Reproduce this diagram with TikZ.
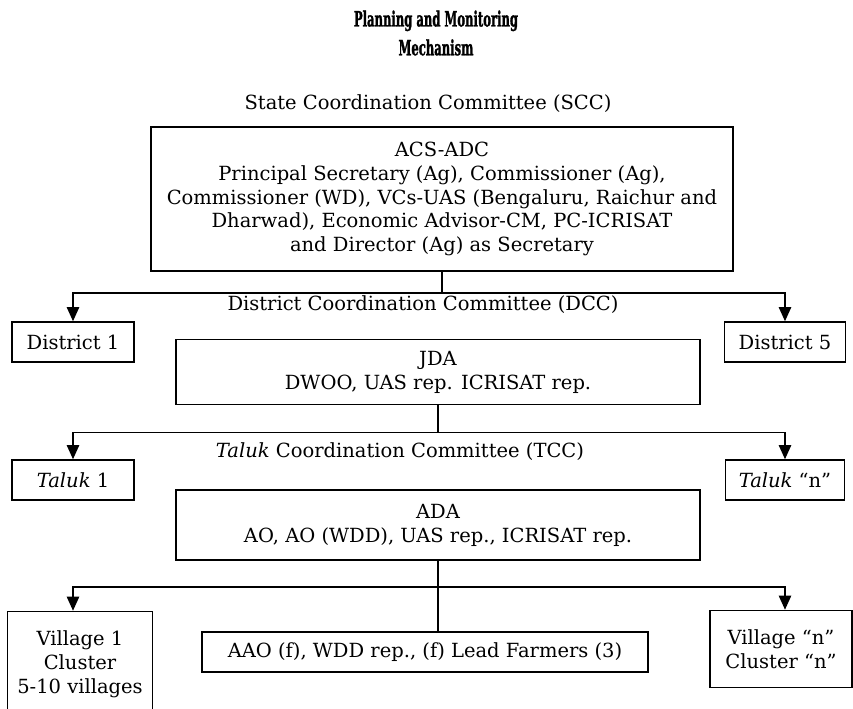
\documentclass[tikz,border=0pt]{standalone}
\usepackage{fontspec}
\setmainfont{DejaVu Serif}
\newfontfamily\titlefont[FakeStretch=0.55, BoldFeatures={FakeBold=1.2}]{DejaVu Serif}
\usetikzlibrary{arrows.meta,positioning,calc}

\begin{document}
\begin{tikzpicture}[x=0.02cm, y=-0.02cm,
    box/.style={rectangle, draw, line width=0.9pt, align=center, inner sep=2pt, font=\fontsize{11.1}{13.6}\selectfont},
    lbl/.style={inner sep=2pt, font=\fontsize{11.1}{13.6}\selectfont},
    arrow/.style={-{Triangle[width=7pt,length=8pt]}, line width=0.9pt},
    link/.style={line width=0.9pt}]
  \useasboundingbox (0,0) rectangle (853,708);
  \node[align=center, font=\titlefont\bfseries\fontsize{12}{16.4}\selectfont] (title) at (436,33) {Planning and Monitoring\\Mechanism};
  % state level
  \node[box, minimum width=11.64cm, minimum height=2.88cm] (scc) at (442,199)
    {ACS-ADC\\Principal Secretary (Ag), Commissioner (Ag),\\Commissioner (WD), VCs-UAS (Bengaluru, Raichur and\\Dharwad), Economic Advisor-CM, PC-ICRISAT\\and Director (Ag) as Secretary};
  \node[lbl] (scclbl) at (428,104) {State Coordination Committee (SCC)};
  % district level
  \node[lbl] (dcclbl) at (423,305) {District Coordination Committee (DCC)};
  \node[box, minimum width=10.48cm, minimum height=1.3cm] (dcc) at (438,372) {JDA\\DWOO, UAS rep. ICRISAT rep.};
  \node[box, minimum width=2.44cm, minimum height=0.8cm] (dist1) at (73,342) {District 1};
  \node[box, minimum width=2.42cm, minimum height=0.8cm] (dist5) at (785,342) {District 5};
  % taluk level
  \node[lbl] (tcclbl) at (400,452) {\textit{Taluk} Coordination Committee (TCC)};
  \node[box, minimum width=10.48cm, minimum height=1.4cm] (tcc) at (438,525) {ADA\\AO, AO (WDD), UAS rep., ICRISAT rep.};
  \node[box, minimum width=2.44cm, minimum height=0.8cm] (taluk1) at (73,480) {\textit{Taluk} 1};
  \node[box, minimum width=2.38cm, minimum height=0.8cm] (talukn) at (785,480) {\textit{Taluk} “n”};
  % village level
  \node[box, minimum width=2.9cm, minimum height=2.1cm] (vill1) at (80,664) {Village 1\\Cluster\\5-10 villages};
  \node[box, minimum width=2.84cm, minimum height=1.54cm] (villn) at (781,649) {Village “n”\\Cluster “n”};
  \node[box, minimum width=8.92cm, minimum height=0.8cm] (aao) at (425,652) {AAO (f), WDD rep., (f) Lead Farmers (3)};
  % connectors
  \coordinate (j1) at ($(scc.south)+(0,21)$);
  \coordinate (j2) at ($(dcc.south)+(0,27)$);
  \coordinate (j3) at ($(tcc.south)+(0,26)$);
  \draw[link] (scc.south) -- (j1);
  \draw[arrow] (j1) -| (dist1);
  \draw[arrow] (j1) -| (dist5);
  \draw[link] (dcc.south) -- (j2);
  \draw[arrow] (j2) -| (taluk1);
  \draw[arrow] (j2) -| (talukn);
  \draw[link] (tcc.south) -- (tcc.south |- aao.north);
  \draw[arrow] (j3) -| (taluk1 |- vill1.north);
  \draw[arrow] (j3) -| (talukn |- villn.north);
\end{tikzpicture}
\end{document}
